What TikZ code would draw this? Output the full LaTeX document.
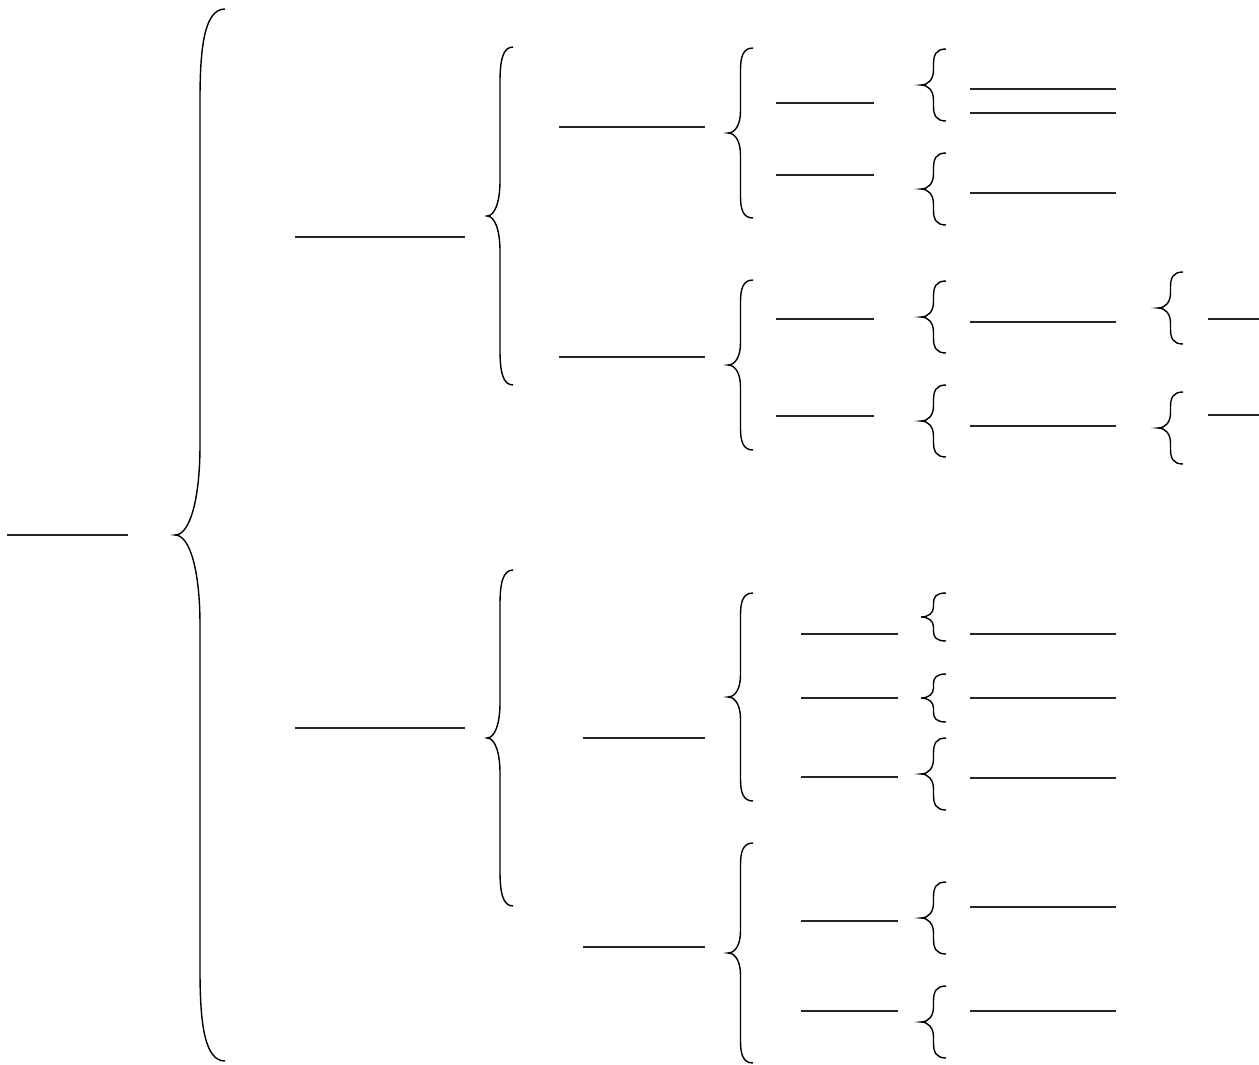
\documentclass[tikz,border=0pt]{standalone}
\usepackage{tikz}
\usetikzlibrary{positioning,calc}

% curly brace opening to the right: tip x, tip y, half height, width, hook length
\newcommand{\curlybrace}[5]{%
  \draw[bracestyle] (#1+#4,#2-#3)
    .. controls (#1+0.6*#4,#2-#3) and (#1+0.5*#4,#2-#3+0.4*#5) .. (#1+0.5*#4,#2-#3+#5)
    -- (#1+0.5*#4,#2-#5)
    .. controls (#1+0.5*#4,#2-0.4*#5) and (#1+0.3*#4,#2) .. (#1,#2)
    .. controls (#1+0.3*#4,#2) and (#1+0.5*#4,#2+0.4*#5) .. (#1+0.5*#4,#2+#5)
    -- (#1+0.5*#4,#2+#3-#5)
    .. controls (#1+0.5*#4,#2+#3-0.4*#5) and (#1+0.6*#4,#2+#3) .. (#1+#4,#2+#3);
}

\begin{document}
\begin{tikzpicture}[
    x=0.02cm, y=-0.02cm,
    blank/.style={draw=black!85, line width=0.9pt},
    bracestyle/.style={draw=black, line width=0.8pt}
]
    \useasboundingbox (0,0) rectangle (1259,1065);

    % root
    \draw[blank] (7,535) -- (128,535);
    \curlybrace{175}{535}{526}{50}{90}

    % first level
    \draw[blank] (295,237) -- (465,237);
    \draw[blank] (295,728) -- (465,728);
    \curlybrace{487}{216}{169}{26}{35}
    \curlybrace{487}{738}{168}{26}{35}

    % second level
    \draw[blank] (559,127) -- (705,127);
    \draw[blank] (559,357) -- (705,357);
    \draw[blank] (583,738) -- (705,738);
    \draw[blank] (583,947) -- (705,947);
    \curlybrace{728}{133}{85}{25}{22}
    \curlybrace{728}{365}{85}{25}{22}
    \curlybrace{728}{697}{104}{25}{22}
    \curlybrace{728}{953}{110}{25}{22}

    % third level
    \draw[blank] (776,103) -- (874,103);
    \draw[blank] (776,175) -- (874,175);
    \draw[blank] (776,319) -- (874,319);
    \draw[blank] (776,416) -- (874,416);
    \draw[blank] (801,634) -- (898,634);
    \draw[blank] (801,698) -- (898,698);
    \draw[blank] (801,777) -- (898,777);
    \draw[blank] (801,921) -- (898,921);
    \draw[blank] (801,1011) -- (898,1011);
    \curlybrace{921}{85}{36}{25}{15}
    \curlybrace{921}{189}{36}{25}{15}
    \curlybrace{921}{317}{36}{25}{15}
    \curlybrace{921}{421}{36}{25}{15}
    \curlybrace{921}{617}{24}{25}{10}
    \curlybrace{921}{698}{24}{25}{10}
    \curlybrace{921}{774}{36}{25}{15}
    \curlybrace{921}{918}{36}{25}{15}
    \curlybrace{921}{1022}{36}{25}{15}

    % fourth level
    \draw[blank] (970,89) -- (1116,89);
    \draw[blank] (970,113) -- (1116,113);
    \draw[blank] (970,193) -- (1116,193);
    \draw[blank] (970,322) -- (1116,322);
    \draw[blank] (970,426) -- (1116,426);
    \draw[blank] (970,634) -- (1116,634);
    \draw[blank] (970,698) -- (1116,698);
    \draw[blank] (970,778) -- (1116,778);
    \draw[blank] (970,907) -- (1116,907);
    \draw[blank] (970,1011) -- (1116,1011);
    \curlybrace{1158}{308}{36}{25}{15}
    \curlybrace{1158}{428}{36}{25}{15}

    % fifth level
    \draw[blank] (1208,319) -- (1259,319);
    \draw[blank] (1208,415) -- (1259,415);
\end{tikzpicture}
\end{document}
